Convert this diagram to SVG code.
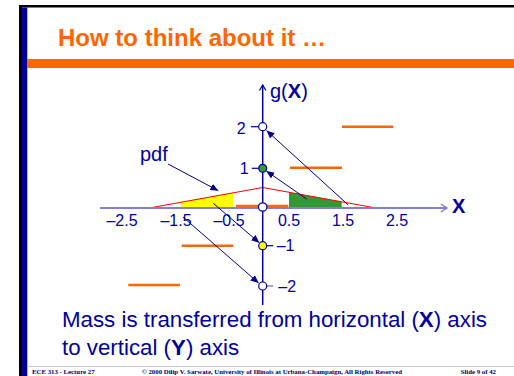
<svg xmlns="http://www.w3.org/2000/svg" width="514" height="376" viewBox="0 0 514 376">
<defs>
<style>
.t{font-family:"Liberation Sans",Arial,sans-serif;fill:#000099}
.tk{font-size:16px}
.ft{font-family:"Liberation Serif","Times New Roman",serif;font-weight:bold;font-size:6.8px;fill:#000066}
.ar{stroke:#000080;stroke-width:1;fill:none;marker-end:url(#ah)}
.or{stroke:#ff6600;stroke-width:2.5}
.dot{stroke:#000099;stroke-width:1.2}
</style>
<marker id="ah" markerUnits="userSpaceOnUse" markerWidth="8" markerHeight="7" refX="8" refY="3.5" orient="auto">
<path d="M0,0 L8,3.5 L0,7 z" fill="#000080"/>
</marker>
</defs>
<rect width="514" height="376" fill="#ffffff"/>
<g id="frame">
<rect x="19" y="5" width="495" height="2.5" fill="#000000"/>
<rect x="19" y="5" width="3" height="371" fill="#000000"/>
<rect x="22" y="7.5" width="5.3" height="368.5" fill="#000099"/>
<rect x="27" y="59" width="487" height="9" fill="#ff6600"/>
<line x1="27" y1="366.5" x2="514" y2="366.5" stroke="#c8c8dc" stroke-width="1"/>
</g>
<g id="title">
<text x="58" y="46" font-family="Liberation Sans,Arial,sans-serif" font-weight="bold" font-size="24" fill="#ff6600">How to think about it …</text>
</g>
<g id="regions">
<polygon points="181,208 181,201.7 233.3,192.5 233.3,208" fill="#ffff00"/>
<polygon points="289,208 289,192.3 341.7,201.8 341.7,208" fill="#339933"/>
<polyline points="149.3,208 262.7,187.5 376,208" fill="none" stroke="#ff0000" stroke-width="1"/>
</g>
<g id="axes">
<line x1="100" y1="208" x2="447" y2="208" stroke="#8080d0" stroke-width="2"/>
<polyline points="441,204 447,208 441,212" fill="none" stroke="#8080d0" stroke-width="1.5"/>
<line x1="262.7" y1="85" x2="262.7" y2="305" stroke="#000099" stroke-width="1.5"/>
<polyline points="259.5,90.5 262.7,85 265.9,90.5" fill="none" stroke="#000099" stroke-width="1.2"/>
<line x1="251" y1="126.7" x2="259" y2="126.7" stroke="#000099" stroke-width="1.2"/>
<line x1="251.7" y1="168.3" x2="259" y2="168.3" stroke="#000099" stroke-width="1.2"/>
<line x1="266.5" y1="245.7" x2="273.3" y2="245.7" stroke="#000099" stroke-width="1.2"/>
<line x1="266" y1="286" x2="273.3" y2="286" stroke="#8888cc" stroke-width="1.5"/>
</g>
<g id="segments">
<line class="or" x1="236" y1="206" x2="288.3" y2="206"/>
<line class="or" x1="342" y1="126.7" x2="393.3" y2="126.7"/>
<line class="or" x1="290" y1="167.7" x2="342" y2="167.7"/>
<line class="or" x1="181.7" y1="245.7" x2="233.3" y2="245.7"/>
<line class="or" x1="128.3" y1="285" x2="180" y2="285"/>
</g>
<g id="labels">
<text class="t" x="270" y="98" font-size="20">g(<tspan font-weight="bold">X</tspan>)</text>
<text class="t" x="452" y="213" font-size="20" font-weight="bold">X</text>
<text class="t" x="140" y="161" font-size="20">pdf</text>
<text class="t tk" x="245.7" y="134" text-anchor="end">2</text>
<text class="t tk" x="248.7" y="173.5" text-anchor="end">1</text>
<text class="t tk" x="276.7" y="250.5">–1</text>
<text class="t tk" x="278.3" y="291.7">–2</text>
<text class="t tk" x="122" y="226" text-anchor="middle">–2.5</text>
<text class="t tk" x="176" y="226" text-anchor="middle">–1.5</text>
<text class="t tk" x="229" y="226" text-anchor="middle">–0.5</text>
<text class="t tk" x="289" y="226" text-anchor="middle">0.5</text>
<text class="t tk" x="343" y="226" text-anchor="middle">1.5</text>
<text class="t tk" x="397" y="226" text-anchor="middle">2.5</text>
</g>
<g id="connectors">
<line class="ar" x1="168" y1="164" x2="218.3" y2="190.7"/>
<line class="ar" x1="348.3" y1="205" x2="266.5" y2="130.5"/>
<line class="ar" x1="306.7" y1="199" x2="266.3" y2="171"/>
<line class="ar" x1="213.3" y1="203.3" x2="259.3" y2="242.8"/>
<line class="ar" x1="183" y1="217" x2="258.6" y2="283"/>
</g>
<g id="dots">
<circle id="d2" class="dot" cx="262.7" cy="126.7" r="4" fill="#ffffff"/>
<circle id="d1" class="dot" cx="262.7" cy="168.3" r="4" fill="#339933" stroke="#339933"/>
<circle id="d0" class="dot" cx="262.7" cy="207" r="4.2" fill="#ffffff"/>
<circle id="dm1" class="dot" cx="262.7" cy="245.7" r="4" fill="#ffff00"/>
<circle id="dm2" class="dot" cx="262.7" cy="286" r="4" fill="#ffffff"/>
</g>
<g id="body">
<text class="t" x="62" y="327" font-size="22.3">Mass is transferred from horizontal (<tspan font-weight="bold">X</tspan>) axis</text>
<text class="t" x="62" y="355" font-size="22.3">to vertical (<tspan font-weight="bold">Y</tspan>) axis</text>
</g>
<g id="footer">
<text class="ft" x="32" y="373.5">ECE 313 - Lecture 27</text>
<text class="ft" x="141.7" y="373.5">© 2000 Dilip V. Sarwate, University of Illinois at Urbana-Champaign, All Rights Reserved</text>
<text class="ft" x="496" y="373.5" text-anchor="end">Slide 9 of 42</text>
</g>
</svg>
